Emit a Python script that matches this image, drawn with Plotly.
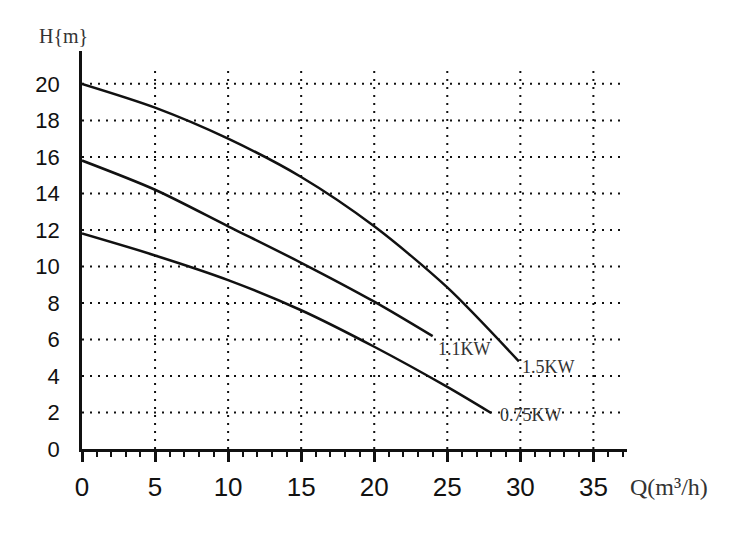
import plotly.graph_objects as go

# pump curves: Q (m3/h) -> H (m)
q_15 = [0, 5, 10, 15, 20, 25, 29.9]
h_15 = [20.0, 18.7, 17.0, 14.9, 12.2, 8.85, 4.8]

q_11 = [0, 5, 10, 15, 20, 24.0]
h_11 = [15.8, 14.2, 12.2, 10.2, 8.07, 6.18]

q_075 = [0, 5, 10, 15, 20, 25, 28.0]
h_075 = [11.8, 10.6, 9.25, 7.6, 5.6, 3.4, 1.97]

curve_names = ["1.5KW", "1.1KW", "0.75KW"]

x_ticks = [0, 5, 10, 15, 20, 25, 30, 35]
y_ticks = [0, 2, 4, 6, 8, 10, 12, 14, 16, 18, 20]

ink = "#111111"
serif = "Liberation Serif"

fig = go.Figure()
for qs, hs, name in [(q_15, h_15, curve_names[0]),
                     (q_11, h_11, curve_names[1]),
                     (q_075, h_075, curve_names[2])]:
    fig.add_trace(go.Scatter(x=qs, y=hs, mode="lines", name=name,
                             line=dict(color=ink, width=2.5, shape="spline", smoothing=0.8),
                             showlegend=False, hoverinfo="skip"))

# dotted grid, vertical lines stop a little below the top of the y axis
shapes = []
for xv in x_ticks[1:]:
    shapes.append(dict(type="line", xref="x", yref="y", x0=xv, x1=xv, y0=0, y1=21,
                       line=dict(color=ink, width=2, dash="2px,6px"), layer="below"))
for yv in y_ticks[1:]:
    shapes.append(dict(type="line", xref="x", yref="y", x0=0, x1=37.1, y0=yv, y1=yv,
                       line=dict(color=ink, width=2, dash="2px,6px"), layer="below"))

# labels at the end of each curve
ends = [(q_15[-1], h_15[-1]), (q_11[-1], h_11[-1]), (q_075[-1], h_075[-1])]
offsets = [(0.1, -0.3), (0.2, -0.7), (0.5, -0.1)]
annotations = []
for (xe, ye), (dx, dy), name in zip(ends, offsets, curve_names):
    annotations.append(dict(x=xe + dx, y=ye + dy, xref="x", yref="y", text=name,
                            showarrow=False, xanchor="left", yanchor="middle",
                            font=dict(family=serif, size=18, color="#333333")))

annotations.append(dict(x=-0.083, y=1.038, xref="paper", yref="paper", text="H{m}",
                        xanchor="left", yanchor="middle", showarrow=False,
                        font=dict(family=serif, size=20, color="#333333")))
annotations.append(dict(x=1.002, y=-0.096, xref="paper", yref="paper", text="Q(m³/h)",
                        xanchor="left", yanchor="middle", showarrow=False,
                        font=dict(family=serif, size=24, color="#333333")))

fig.update_layout(
    width=750, height=537,
    margin=dict(l=74, r=131, t=43, b=96),
    paper_bgcolor="white", plot_bgcolor="white",
    shapes=shapes, annotations=annotations,
    xaxis=dict(range=[0, 37.3], showgrid=False, zeroline=False,
               showline=True, linecolor=ink, linewidth=2.5,
               tickvals=x_ticks, ticks="outside", ticklen=10, tickwidth=2.5, tickcolor=ink,
               minor=dict(dtick=1, tick0=0, ticks="outside", ticklen=5, tickwidth=2, tickcolor=ink),
               ticklabelstandoff=3,
               tickfont=dict(family="Liberation Sans", size=26, color=ink)),
    yaxis=dict(range=[0, 21.8], showgrid=False, zeroline=False,
               showline=True, linecolor=ink, linewidth=2.5,
               tickvals=y_ticks, ticks="", ticklabelstandoff=15,
               tickfont=dict(family="Liberation Sans", size=22, color=ink)),
)

fig.write_html("out.html")
